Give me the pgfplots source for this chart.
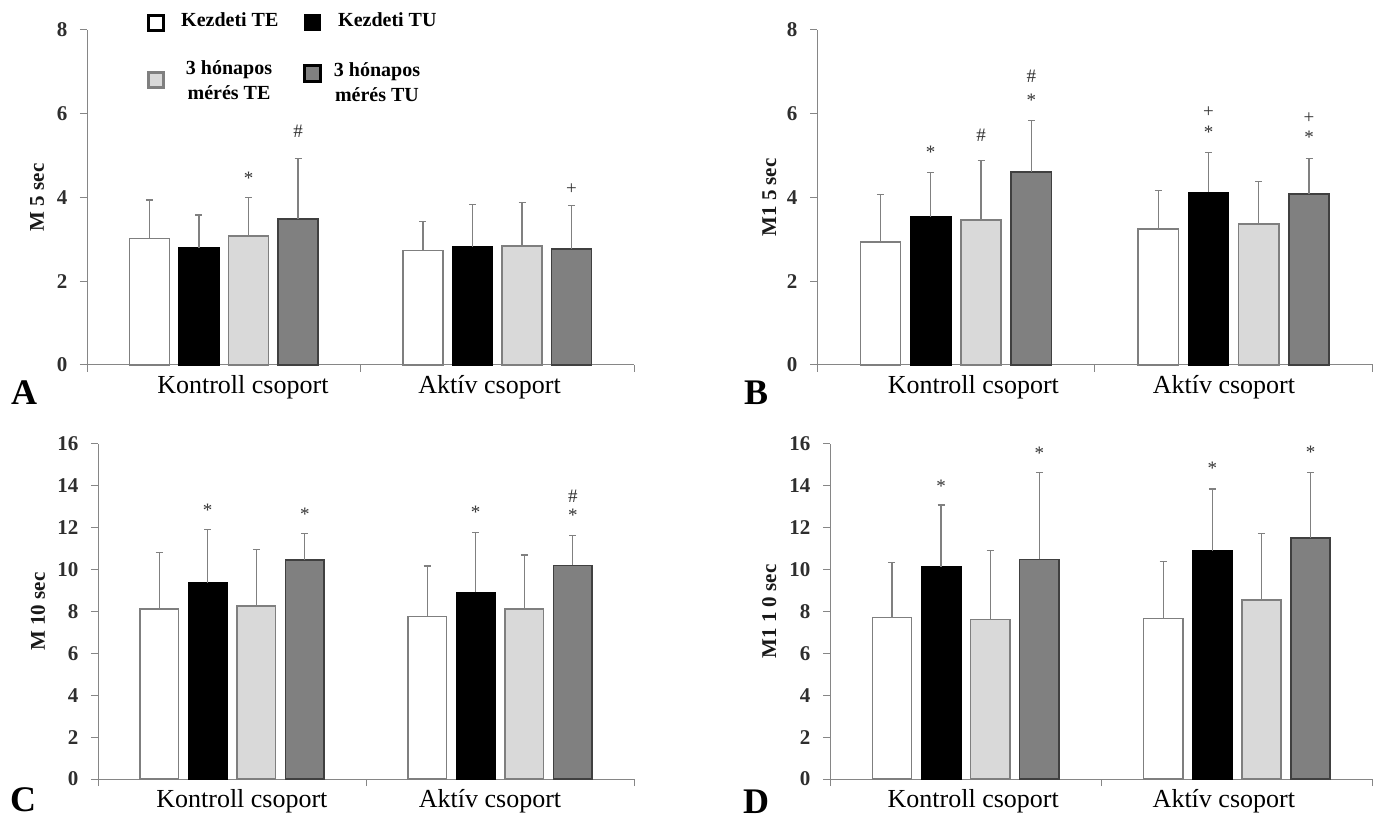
\documentclass[border=0pt]{standalone}
\usepackage{fontspec}
\setmainfont{Liberation Serif}
\usepackage{pgfplots}
\usepackage{pgfplotstable}
\pgfplotsset{compat=1.18}
\definecolor{axisgray}{HTML}{868686}
\definecolor{edgegray}{HTML}{7F7F7F}
\definecolor{errgray}{HTML}{808080}
\definecolor{lightfill}{HTML}{D9D9D9}
\definecolor{darkfill}{HTML}{808080}
\definecolor{darkedge}{HTML}{404040}
\definecolor{sigcol}{HTML}{333333}

\pgfplotstableread{
x y1 e1 y2 e2 y3 e3 y4 e4
0 3.02 0.92 2.79 0.79 3.08 0.92 3.49 1.44
1 2.73 0.69 2.82 1.02 2.84 1.04 2.77 1.03
}\dataA
\pgfplotstableread{
x y1 e1 y2 e2 y3 e3 y4 e4
0 2.94 1.14 3.53 1.06 3.46 1.43 4.61 1.22
1 3.25 0.91 4.12 0.95 3.37 1.01 4.08 0.86
}\dataB
\pgfplotstableread{
x y1 e1 y2 e2 y3 e3 y4 e4
0 8.13 2.68 9.38 2.55 8.26 2.71 10.47 1.26
1 7.75 2.42 8.91 2.87 8.13 2.57 10.20 1.44
}\dataC
\pgfplotstableread{
x y1 e1 y2 e2 y3 e3 y4 e4
0 7.72 2.61 10.14 2.95 7.61 3.31 10.49 4.14
1 7.67 2.73 10.89 2.96 8.55 3.18 11.51 3.14
}\dataD

\pgfplotsset{
  panel/.style={
    scale only axis,
    xmin=-0.5, xmax=1.5, ymin=0,
    axis x line*=bottom, axis y line*=left,
    axis line style={draw=axisgray, line width=1pt},
    minor xtick={-0.5,0.5,1.5},
    major x tick style={draw=none},
    tick align=outside,
    major tick length=7pt, minor tick length=7pt,
    every tick/.style={draw=axisgray, line width=1pt},
    xticklabels={Kontroll csoport, Aktív csoport},
    xticklabel style={font=\fontsize{26}{28}\selectfont, text=black},
    yticklabel style={font=\fontsize{21}{22}\selectfont\bfseries, text=black!82, xshift=-9pt},
    /pgf/number format/assume math mode=true,
    clip=false,
    every axis y label/.style={rotate=90, anchor=center, font=\fontsize{21}{24}\selectfont\bfseries, text=black!90},
  },
  errs/.style={error bars/.cd, y dir=plus, y explicit, error mark=|,
    error bar style={draw=errgray, line width=1.2pt},
    error mark options={draw=errgray, line width=1.2pt, mark size=3.5pt}},
  b1/.style={ybar, bar width=0.145, bar shift=0, fill=white, draw=edgegray, line width=1.5pt, errs},
  b2/.style={ybar, bar width=0.145, bar shift=0, fill=black, draw=black, line width=1.5pt, errs},
  b3/.style={ybar, bar width=0.145, bar shift=0, fill=lightfill, draw=edgegray, line width=1.5pt, errs},
  b4/.style={ybar, bar width=0.145, bar shift=0, fill=darkfill, draw=darkedge, line width=1.5pt, errs},
}
\tikzset{sig/.style={font=\fontsize{19}{19}\selectfont, text=sigcol, inner sep=0pt, anchor=center}}

\begin{document}
\begin{tikzpicture}[x=1pt,y=1pt]
\useasboundingbox (0,0) rectangle (1373,819);

% Panel A
\begin{axis}[panel, at={(87pt,454pt)}, anchor=south west, width=547pt, height=335pt,
  ymax=8, ytick={0,2,4,6,8}, ylabel={M 5 sec}, xtick={0.070,0.972},
  every axis y label/.append style={at={(axis description cs:-0.0914,0.5)}}]
\addplot[b1] table[x expr=\thisrow{x}-0.2715, y=y1, y error=e1] {\dataA};
\addplot[b2] table[x expr=\thisrow{x}-0.0905, y=y2, y error=e2] {\dataA};
\addplot[b3] table[x expr=\thisrow{x}+0.0905, y=y3, y error=e3] {\dataA};
\addplot[b4] table[x expr=\thisrow{x}+0.2715, y=y4, y error=e4] {\dataA};
\node[sig] at (axis cs:0.0905,4.47) {*};
\node[sig] at (axis cs:0.2715,5.57) {\#};
\node[sig] at (axis cs:1.2715,4.20) {+};
\end{axis}

% Panel B
\begin{axis}[panel, at={(817pt,454pt)}, anchor=south west, width=555.5pt, height=335pt,
  ymax=8, ytick={0,2,4,6,8}, ylabel={M1 5 sec}, xtick={0.063,0.965},
  every axis y label/.append style={at={(axis description cs:-0.0857,0.5)}}]
\addplot[b1] table[x expr=\thisrow{x}-0.2715, y=y1, y error=e1] {\dataB};
\addplot[b2] table[x expr=\thisrow{x}-0.0905, y=y2, y error=e2] {\dataB};
\addplot[b3] table[x expr=\thisrow{x}+0.0905, y=y3, y error=e3] {\dataB};
\addplot[b4] table[x expr=\thisrow{x}+0.2715, y=y4, y error=e4] {\dataB};
\node[sig] at (axis cs:-0.0905,5.07) {*};
\node[sig] at (axis cs:0.0905,5.49) {\#};
\node[sig] at (axis cs:0.2715,6.33) {*};
\node[sig] at (axis cs:0.2715,6.90) {\#};
\node[sig] at (axis cs:0.9095,5.56) {*};
\node[sig] at (axis cs:0.9095,6.03) {+};
\node[sig] at (axis cs:1.2715,5.43) {*};
\node[sig] at (axis cs:1.2715,5.89) {+};
\end{axis}

% Panel C
\begin{axis}[panel, at={(98pt,40pt)}, anchor=south west, width=536pt, height=335pt,
  ymax=16, ytick={0,2,...,16}, ylabel={M 10 sec}, xtick={0.037,0.963},
  every axis y label/.append style={at={(axis description cs:-0.112,0.5)}}]
\addplot[b1] table[x expr=\thisrow{x}-0.2715, y=y1, y error=e1] {\dataC};
\addplot[b2] table[x expr=\thisrow{x}-0.0905, y=y2, y error=e2] {\dataC};
\addplot[b3] table[x expr=\thisrow{x}+0.0905, y=y3, y error=e3] {\dataC};
\addplot[b4] table[x expr=\thisrow{x}+0.2715, y=y4, y error=e4] {\dataC};
\node[sig] at (axis cs:-0.0905,12.85) {*};
\node[sig] at (axis cs:0.2715,12.66) {*};
\node[sig] at (axis cs:0.9095,12.72) {*};
\node[sig] at (axis cs:1.2715,12.59) {*};
\node[sig] at (axis cs:1.2715,13.51) {\#};
\end{axis}

% Panel D
\begin{axis}[panel, at={(830pt,40pt)}, anchor=south west, width=542.5pt, height=335pt,
  ymax=16, ytick={0,2,...,16}, ylabel={M1 1 0 sec}, xtick={0.028,0.952},
  every axis y label/.append style={at={(axis description cs:-0.112,0.5)}}]
\addplot[b1] table[x expr=\thisrow{x}-0.2715, y=y1, y error=e1] {\dataD};
\addplot[b2] table[x expr=\thisrow{x}-0.0905, y=y2, y error=e2] {\dataD};
\addplot[b3] table[x expr=\thisrow{x}+0.0905, y=y3, y error=e3] {\dataD};
\addplot[b4] table[x expr=\thisrow{x}+0.2715, y=y4, y error=e4] {\dataD};
\node[sig] at (axis cs:-0.0905,13.99) {*};
\node[sig] at (axis cs:0.2715,15.58) {*};
\node[sig] at (axis cs:0.9095,14.84) {*};
\node[sig] at (axis cs:1.2715,15.61) {*};
\end{axis}

% Panel letters
\node[font=\fontsize{36}{36}\selectfont\bfseries] at (24,426) {A};
\node[font=\fontsize{36}{36}\selectfont\bfseries] at (756,426) {B};
\node[font=\fontsize{36}{36}\selectfont\bfseries] at (23,19) {C};
\node[font=\fontsize{36}{36}\selectfont\bfseries] at (756,17) {D};

% Legend
\draw[black, line width=3pt, fill=white] (148.5,788.5) rectangle (163.5,803.5);
\fill[black] (303.5,787.5) rectangle (320.5,804.5);
\draw[edgegray, line width=3pt, fill=lightfill] (148.5,731.5) rectangle (163.5,746.5);
\draw[black, line width=3pt, fill=darkfill] (304,737) rectangle (320,753);
\node[font=\fontsize{20}{25}\selectfont\bfseries, anchor=base west, inner sep=0pt] at (181,792) {Kezdeti TE};
\node[font=\fontsize{20}{25}\selectfont\bfseries, anchor=base west, inner sep=0pt] at (338,792) {Kezdeti TU};
\node[font=\fontsize{20}{25}\selectfont\bfseries, align=center, inner sep=0pt] at (229,739) {3 hónapos\\mérés TE};
\node[font=\fontsize{20}{25}\selectfont\bfseries, align=center, inner sep=0pt] at (377,737) {3 hónapos\\mérés TU};
\end{tikzpicture}
\end{document}
